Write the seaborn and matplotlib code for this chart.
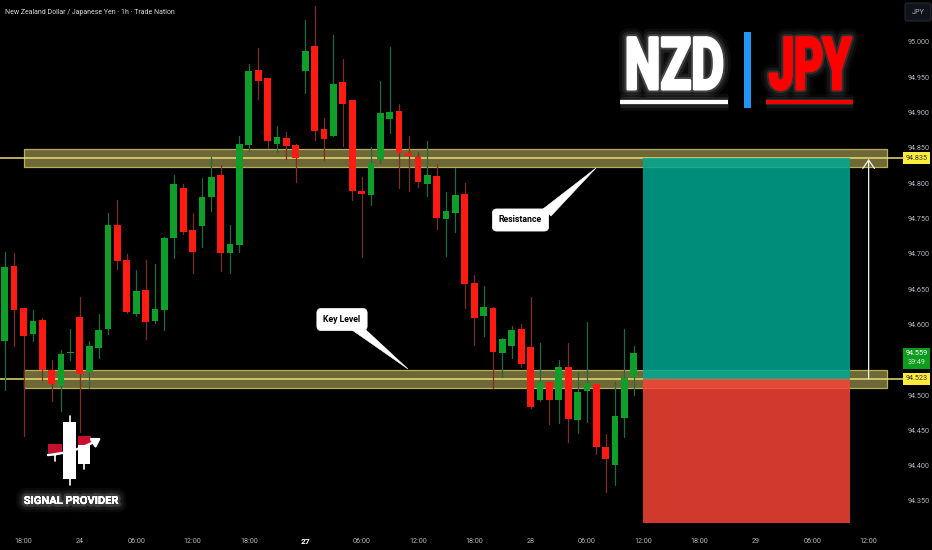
import numpy as np
import pandas as pd
import matplotlib
matplotlib.use("Agg")
import matplotlib.pyplot as plt
import matplotlib.patheffects as pe
from matplotlib.patches import Rectangle, Polygon, FancyBboxPatch
from matplotlib.transforms import Affine2D
import seaborn as sns

# ===============================
# Data (hours since the first 18:00 tick)
# ===============================
opens = [94.577, 94.683, 94.623, 94.587, 94.606, 94.535, 94.513, 94.560, 94.610, 94.532, 94.567, 94.593, 94.741, 94.691,
         94.614, 94.649, 94.605, 94.620, 94.722, 94.793, 94.734, 94.739, 94.780, 94.812, 94.701, 94.712, 94.854, 94.960,
         94.948, 94.855, 94.864, 94.854, 94.959, 94.994, 94.877, 94.867, 94.943, 94.917, 94.789, 94.783, 94.834, 94.891,
         94.902, 94.842, 94.837, 94.798, 94.810, 94.749, 94.757, 94.785, 94.659, 94.612, 94.623, 94.560, 94.570, 94.593,
         94.568, 94.493, 94.518, 94.493, 94.540, 94.464, 94.505, 94.515, 94.426, 94.401, 94.468, 94.526]
highs = [94.702, 94.701, 94.623, 94.620, 94.609, 94.550, 94.564, 94.593, 94.638, 94.576, 94.615, 94.758, 94.776, 94.700,
         94.677, 94.691, 94.685, 94.724, 94.811, 94.798, 94.757, 94.807, 94.837, 94.825, 94.741, 94.867, 94.969, 94.991,
         94.949, 94.881, 94.872, 94.855, 95.031, 95.050, 94.892, 95.009, 94.976, 94.918, 94.809, 94.851, 94.944, 94.993,
         94.912, 94.867, 94.844, 94.860, 94.827, 94.787, 94.821, 94.800, 94.670, 94.654, 94.624, 94.581, 94.597, 94.600,
         94.638, 94.573, 94.519, 94.550, 94.573, 94.532, 94.603, 94.516, 94.445, 94.519, 94.594, 94.569]
lows = [94.507, 94.570, 94.442, 94.576, 94.521, 94.491, 94.478, 94.550, 94.448, 94.510, 94.553, 94.586, 94.678, 94.616,
        94.612, 94.579, 94.602, 94.592, 94.694, 94.728, 94.673, 94.710, 94.761, 94.675, 94.672, 94.703, 94.846, 94.919,
        94.849, 94.844, 94.834, 94.802, 94.928, 94.861, 94.833, 94.866, 94.853, 94.776, 94.696, 94.769, 94.828, 94.871,
        94.793, 94.789, 94.794, 94.782, 94.735, 94.697, 94.731, 94.623, 94.571, 94.583, 94.510, 94.526, 94.553, 94.540,
        94.482, 94.492, 94.459, 94.461, 94.434, 94.446, 94.462, 94.417, 94.363, 94.373, 94.440, 94.500]
closes = [94.681, 94.620, 94.583, 94.605, 94.536, 94.516, 94.558, 94.561, 94.530, 94.569, 94.592, 94.740, 94.689, 94.618,
          94.647, 94.604, 94.622, 94.722, 94.798, 94.731, 94.703, 94.780, 94.808, 94.701, 94.713, 94.855, 94.959, 94.945,
          94.860, 94.865, 94.852, 94.836, 94.987, 94.874, 94.862, 94.940, 94.912, 94.789, 94.784, 94.829, 94.899, 94.901,
          94.842, 94.838, 94.801, 94.811, 94.751, 94.761, 94.783, 94.657, 94.609, 94.624, 94.561, 94.579, 94.592, 94.544,
          94.483, 94.519, 94.493, 94.539, 94.466, 94.504, 94.517, 94.426, 94.410, 94.470, 94.524, 94.559]
first_hour = -2

x_ticks = [0, 6, 12, 18, 24, 30, 36, 42, 48, 54, 60, 66, 72, 78, 84, 90]
x_labels = ["18:00", "24", "06:00", "12:00", "18:00", "27", "06:00", "12:00",
            "18:00", "28", "06:00", "12:00", "18:00", "29", "06:00", "12:00"]
y_ticks = [94.35, 94.40, 94.45, 94.50, 94.60, 94.65, 94.70, 94.75, 94.80, 94.85, 94.90, 94.95, 95.00]

resistance = 94.835
key_level = 94.523
resistance_band = (94.822, 94.848)
key_band = (94.510, 94.535)
stop_level = 94.319
last_price = "94.559"
countdown = "39:49"

# ===============================
# Style
# ===============================
BG = "#000000"
GREEN = "#0E9F2A"
RED = "#FF1A12"
GREEN_WICK = "#1C6B45"
RED_WICK = "#7D2E26"
GREY = "#B4B7BE"

sns.set_theme(style="dark", rc={"axes.facecolor": BG, "figure.facecolor": BG, "savefig.facecolor": BG})
plt.rcParams["font.family"] = ["Roboto", "DejaVu Sans"]

df = pd.DataFrame({"hour": np.arange(len(opens)) + first_hour, "open": opens, "high": highs,
                   "low": lows, "close": closes})
df["up"] = df["close"] >= df["open"]
df["top"] = df[["open", "close"]].max(axis=1)
df["bottom"] = df[["open", "close"]].min(axis=1)
df["body"] = df["top"] - df["bottom"]

fig = plt.figure(figsize=(9.32, 5.5), dpi=100)
ax = fig.add_axes([0, 23 / 550, 900 / 932, 527 / 550])
ax.set_xlim(-2.503, 93.34)
ax.set_ylim(94.3132, 95.059)

# pixel coordinates of the picture, for the overlays that are not data
px = Affine2D().scale(1 / 932, -1 / 550).translate(0, 1) + fig.transFigure

# ===============================
# Zones
# ===============================
for band, level in [(resistance_band, resistance), (key_band, key_level)]:
    ax.fill_between([0, 92], band[0], band[1], color="#6E6836", lw=0, zorder=1)
    ax.plot([0, 92, 92, 0, 0], [band[0], band[0], band[1], band[1], band[0]], color="#B8AE58", lw=0.9, zorder=1.1)
    ax.plot([-3, 93.7], [level, level], color="#E8DC78", lw=1.1, zorder=1.2, clip_on=False)

# long position box
ax.fill_between([66, 88], key_level, resistance, color="#00A892", alpha=0.85, lw=0, zorder=1.5)
ax.fill_between([66, 88], stop_level, key_level, color="#F74436", alpha=0.85, lw=0, zorder=1.5)
ax.annotate("", xy=(90, resistance - 0.001), xytext=(90, key_level),
            arrowprops=dict(arrowstyle="->,head_width=0.35,head_length=0.5", color="#F2F2F2", lw=0.9, shrinkA=0, shrinkB=0),
            zorder=3)

# ===============================
# Candles
# ===============================
wicks = df.melt(id_vars=["hour", "up"], value_vars=["high", "low"], value_name="price")
for is_up, wick_color, body_color in [(True, GREEN_WICK, GREEN), (False, RED_WICK, RED)]:
    sns.lineplot(data=wicks[wicks["up"] == is_up], x="hour", y="price", units="hour", estimator=None,
                 color=wick_color, lw=0.9, ax=ax, zorder=2, legend=False)
    part = df[df["up"] == is_up]
    sns.barplot(data=part, x="hour", y="body", bottom=part["bottom"].values, native_scale=True, width=0.72,
                color=body_color, saturation=1, errorbar=None, linewidth=0, ax=ax, zorder=2.2)
ax.set_xlim(-2.503, 93.34)
ax.set_ylim(94.3132, 95.059)

# ===============================
# Axes
# ===============================
ax.set_xlabel("")
ax.set_ylabel("")
ax.yaxis.tick_right()
ax.set_xticks(x_ticks, x_labels)
ax.set_yticks(y_ticks, [f"{v:.3f}" for v in y_ticks])
ax.tick_params(axis="x", length=0, pad=7.6, labelsize=5.2, colors=GREY)
ax.tick_params(axis="y", length=0, pad=5.8, labelsize=5.2, colors=GREY)
ax.grid(False)
for s in ax.spines.values():
    s.set_visible(False)
for lab in ax.get_xticklabels():
    if lab.get_text() == "27":
        lab.set_fontweight("bold")
        lab.set_fontsize(6)
        lab.set_color("white")

ax.text(5, 12, "New Zealand Dollar / Japanese Yen · 1h · Trade Nation", transform=px, color="#D6D8DE",
        fontsize=5.0, va="center", ha="left")

# ===============================
# Price tags
# ===============================
def tag(y0, y1, color):
    ax.add_patch(Rectangle((903, y0), 27, y1 - y0, transform=px, color=color, lw=0, clip_on=False, zorder=5))

tag(152, 164, "#FFEB3B")
tag(373, 385, "#FFEB3B")
tag(348, 369, "#0C9C1E")
ax.text(916.5, 158, f"{resistance:.3f}", transform=px, fontsize=5.2, color="#333", ha="center", va="center", zorder=6)
ax.text(916.5, 379, f"{key_level:.3f}", transform=px, fontsize=5.2, color="#333", ha="center", va="center", zorder=6)
ax.text(916.5, 353.5, last_price, transform=px, fontsize=5.2, color="white", ha="center", va="center", zorder=6)
ax.text(916.5, 363, countdown, transform=px, fontsize=5.2, color="#D8F0D8", ha="center", va="center", zorder=6)

ax.add_patch(FancyBboxPatch((906, 4), 24, 16, boxstyle="round,pad=1,rounding_size=2", transform=px, fc="#10131A",
                            ec="#2A2E39", lw=0.7, clip_on=False, zorder=5))
ax.text(918, 12, "JPY", transform=px, fontsize=5.2, color=GREY, ha="center", va="center", zorder=6)

# ===============================
# Callouts
# ===============================
def callout(label, cx, cy, tail):
    ax.add_patch(Polygon(tail, transform=px, fc="white", ec="white", lw=0.4, zorder=4))
    ax.text(cx, cy, label, transform=px, fontsize=6.3, fontweight="bold", color="black", ha="center", va="center",
            zorder=4.2, bbox=dict(boxstyle="round,pad=0.75,rounding_size=0.5", fc="white", ec="white", lw=0.5))

callout("Resistance", 520.5, 220, [(543, 209), (551, 216), (596, 168)])
callout("Key Level", 342, 319.5, [(352, 330), (366, 330), (408, 369)])

# ===============================
# NZD | JPY logo
# ===============================
class Squeezed(pe.AbstractPathEffect):
    # no condensed bold font here, so the glyphs get narrowed at draw time
    def __init__(self, sx, center_px, effects):
        super().__init__()
        self.sx, self.center_px, self.effects = sx, center_px, effects

    def draw_path(self, renderer, gc, tpath, affine, rgbFace=None):
        squeeze = Affine2D().translate(-self.center_px, 0).scale(self.sx, 1).translate(self.center_px, 0)
        for effect in self.effects:
            effect.draw_path(renderer, gc, tpath, affine + squeeze, rgbFace)


def glow(color="white", strength=1.0):
    return [pe.withStroke(linewidth=w, foreground=color, alpha=a * strength)
            for w, a in [(12, 0.05), (8, 0.08), (4, 0.18)]] + [pe.Normal()]


def stroke_glow(color, strength=1.0):
    return [pe.Stroke(linewidth=w, foreground="white", alpha=a * strength)
            for w, a in [(13, 0.05), (9, 0.08), (5, 0.16)]] + [pe.Stroke(linewidth=2.2, foreground=color), pe.Normal()]


ax.text(674.5, 89, "NZD", transform=px, fontsize=52, fontweight="bold", color="white", ha="center", va="baseline",
        path_effects=[Squeezed(0.70, 674.5, stroke_glow("white"))], zorder=6)
ax.text(810, 89, "JPY", transform=px, fontsize=52, fontweight="bold", color="#FF0000", ha="center", va="baseline",
        path_effects=[Squeezed(0.62, 810, stroke_glow("#FF0000", 0.7))], zorder=6)
ax.plot([620, 728], [102, 102], transform=px, color="white", lw=2.6, solid_capstyle="butt", path_effects=glow(), zorder=6)
ax.plot([766, 853], [102, 102], transform=px, color="#F00000", lw=2.6, solid_capstyle="butt", path_effects=glow(strength=0.7), zorder=6)
ax.add_patch(Rectangle((744, 32), 7, 76, transform=px, color="#2196F3", lw=0, zorder=6))

# ===============================
# SIGNAL PROVIDER logo
# ===============================
ax.plot([69.5, 69.5], [416, 485], transform=px, color="white", lw=1.2, zorder=6)
ax.plot([84, 84], [445, 469], transform=px, color="white", lw=1.2, zorder=6)
ax.plot([54.5, 54.5], [445, 461], transform=px, color="white", lw=1.2, zorder=6)
ax.add_patch(Rectangle((63, 422), 13, 57, transform=px, color="white", lw=0, zorder=6))
ax.add_patch(Rectangle((78, 445), 12, 19, transform=px, color="white", lw=0, zorder=6))
ax.add_patch(Rectangle((48, 444), 14, 9, transform=px, color="#C8102E", lw=0, zorder=6))
ax.add_patch(Rectangle((78, 436), 13, 9, transform=px, color="#C8102E", lw=0, zorder=6))
ax.annotate("", xy=(101, 438), xytext=(48, 455), xycoords=px, textcoords=px, zorder=7,
            arrowprops=dict(arrowstyle="-|>,head_width=0.25,head_length=0.4", color="white", lw=1.8, shrinkA=0, shrinkB=0,
                            connectionstyle="arc3,rad=0.12"))
ax.text(71, 501, "SIGNAL PROVIDER", transform=px, fontsize=8, fontweight="bold",
        color="white", ha="center", va="center", path_effects=glow(strength=0.8), zorder=6)

fig.savefig("out.png", dpi=100)
